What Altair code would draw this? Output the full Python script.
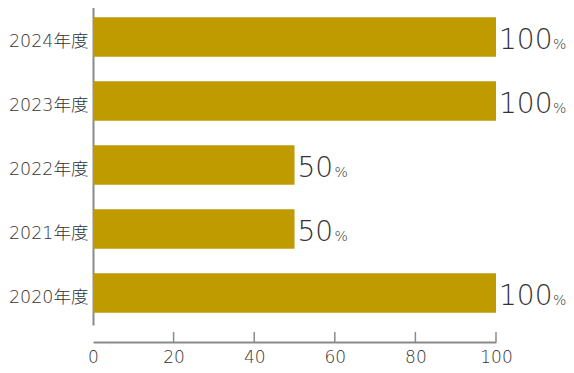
import altair as alt
import pandas as pd

years = ["2024年度", "2023年度", "2022年度", "2021年度", "2020年度"]
values = [100, 100, 50, 50, 100]
x_ticks = [20, 40, 60, 80, 100]

df = pd.DataFrame({"year": years, "value": values})
df["label"] = df["value"].astype(str)
ticks_df = pd.DataFrame({"t": x_ticks})

FONT = "DejaVu Sans, Noto Sans CJK JP"
GOLD = "#bf9b00"
AXIS = "#8a8a8a"
TXT = "#333333"

xscale = alt.Scale(domain=[0, 100], nice=False)
yscale = alt.Scale(domain=years, range=[-3, 317], paddingInner=0.38, paddingOuter=0.19)

base = alt.Chart(df)

bars = base.mark_bar(color=GOLD).encode(
    x=alt.X("value:Q", scale=xscale,
            axis=alt.Axis(title=None, values=[0, 20, 40, 60, 80, 100], ticks=False, grid=False,
                          domainColor=AXIS, domainWidth=2, labelFont=FONT, labelFontSize=17,
                          labelFontWeight=200, labelColor=TXT, labelPadding=7, labelFlush=False)),
    y=alt.Y("year:N", scale=yscale, sort=years,
            axis=alt.Axis(title=None, ticks=False, grid=False, domainColor=AXIS, domainWidth=2,
                          labelFont=FONT, labelFontSize=17.5, labelFontWeight=200,
                          labelColor=TXT, labelPadding=5, labelOffset=5)),
)

num = base.mark_text(align="left", baseline="alphabetic", dx=3, dy=12, font=FONT,
                     fontSize=28, fontWeight=200, color=TXT).encode(
    x=alt.X("value:Q", scale=xscale), y=alt.Y("year:N", scale=yscale, sort=years), text="label:N")

pct100 = base.transform_filter("datum.value >= 100").mark_text(
    align="left", baseline="alphabetic", dx=57, dy=12, font=FONT, fontSize=14, fontWeight=200,
    color=TXT).encode(
    x=alt.X("value:Q", scale=xscale), y=alt.Y("year:N", scale=yscale, sort=years), text=alt.value("%"))

pct50 = base.transform_filter("datum.value < 100").mark_text(
    align="left", baseline="alphabetic", dx=40, dy=12, font=FONT, fontSize=14, fontWeight=200,
    color=TXT).encode(
    x=alt.X("value:Q", scale=xscale), y=alt.Y("year:N", scale=yscale, sort=years), text=alt.value("%"))

tick_rules = alt.Chart(ticks_df).mark_rule(color=AXIS, strokeWidth=1.5).encode(
    x=alt.X("t:Q", scale=xscale), y=alt.value(324), y2=alt.value(334))

chart = alt.layer(bars, tick_rules, num, pct100, pct50).properties(
    width=403, height=334,
    autosize=alt.AutoSizeParams(type="none"),
    padding={"left": 85, "top": 0, "right": 70, "bottom": 23},
).configure(background="white").configure_view(stroke=None)

chart.save("out.html", embed_options={"renderer": "svg", "actions": False})
